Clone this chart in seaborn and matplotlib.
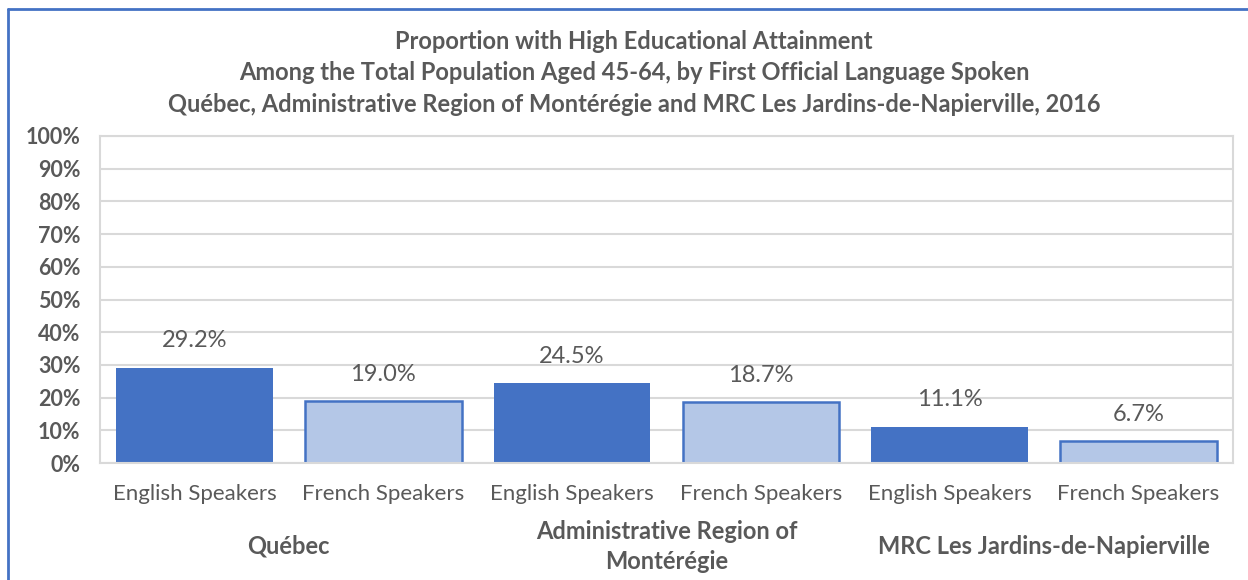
import matplotlib
matplotlib.use("Agg")
import matplotlib.pyplot as plt
import seaborn as sns
import pandas as pd
from matplotlib.lines import Line2D

regions = ["Québec", "Administrative Region of\nMontérégie", "MRC Les Jardins-de-Napierville"]
speakers = ["English Speakers", "French Speakers"]
values = [29.2, 19.0, 24.5, 18.7, 11.1, 6.7]
yticks = [0, 10, 20, 30, 40, 50, 60, 70, 80, 90, 100]
title = ("Proportion with High Educational Attainment\n"
         "Among the Total Population Aged 45-64, by First Official Language Spoken\n"
         "Québec, Administrative Region of Montérégie and MRC Les Jardins-de-Napierville, 2016")

dark = "#4472C4"
light = "#B4C7E7"
txt = "#595959"

sns.set_theme(style="white")
plt.rcParams["font.family"] = ["Lato", "DejaVu Sans"]

keys = []
reg_col = []
spk_col = []
for i, r in enumerate(regions):
    for s in speakers:
        keys.append(f"{i}-{s}")
        reg_col.append(r)
        spk_col.append(s)
df = pd.DataFrame({"key": keys, "region": reg_col, "speaker": spk_col, "value": values})

fig = plt.figure(figsize=(12.48, 5.8), dpi=100)
ax = fig.add_axes([100 / 1248, 1 - 463 / 580, (1233 - 100) / 1248, (463 - 136) / 580])

sns.barplot(data=df, x="key", y="value", hue="speaker", palette=[dark, light],
            dodge=False, width=0.83, legend=False, ax=ax, saturation=1)

# light bars get a dark outline
for p in ax.patches:
    if p.get_height() == 0:
        continue
    fc = p.get_facecolor()
    p.set_edgecolor(dark)
    p.set_linewidth(1.8 if abs(fc[0] - 0.706) < 0.05 else 0)

for i, v in enumerate(values):
    ax.text(i, v + 8.2, f"{v:.1f}%", ha="center", va="center", fontsize=17, color=txt)

ax.set_ylim(0, 100)
ax.set_xlim(-0.5, 5.5)
ax.set_yticks(yticks)
ax.set_yticklabels([f"{t}%" for t in yticks], fontsize=15.5, fontweight="bold", color=txt)
ax.set_xticks(range(6))
ax.set_xticklabels(spk_col, fontsize=16, color=txt)
ax.tick_params(axis="x", length=0, pad=15)
ax.tick_params(axis="y", length=0, pad=14)
ax.set_xlabel("")
ax.set_ylabel("")
ax.yaxis.grid(True, color="#D9D9D9", linewidth=1.5)
ax.set_axisbelow(True)
for sp in ax.spines.values():
    sp.set_visible(True)
    sp.set_color("#D9D9D9")
    sp.set_linewidth(1.5)

for i, r in enumerate(regions):
    ax.text(2 * i + 0.5, -0.255, r, transform=ax.get_xaxis_transform(), ha="center", va="center",
            fontsize=17, fontweight="bold", color=txt, linespacing=1.4)

fig.text(0.508, 1 - 73 / 580, title, ha="center", va="center", fontsize=17, fontweight="bold",
         color=txt, linespacing=1.45)

# figure border (top and left visible)
fig.add_artist(Line2D([8 / 1248, 8 / 1248], [0, 1 - 9 / 580], transform=fig.transFigure, color=dark, lw=2))
fig.add_artist(Line2D([8 / 1248, 1], [1 - 9 / 580, 1 - 9 / 580], transform=fig.transFigure, color=dark, lw=2))

fig.savefig("out.png", dpi=100, facecolor="white")
